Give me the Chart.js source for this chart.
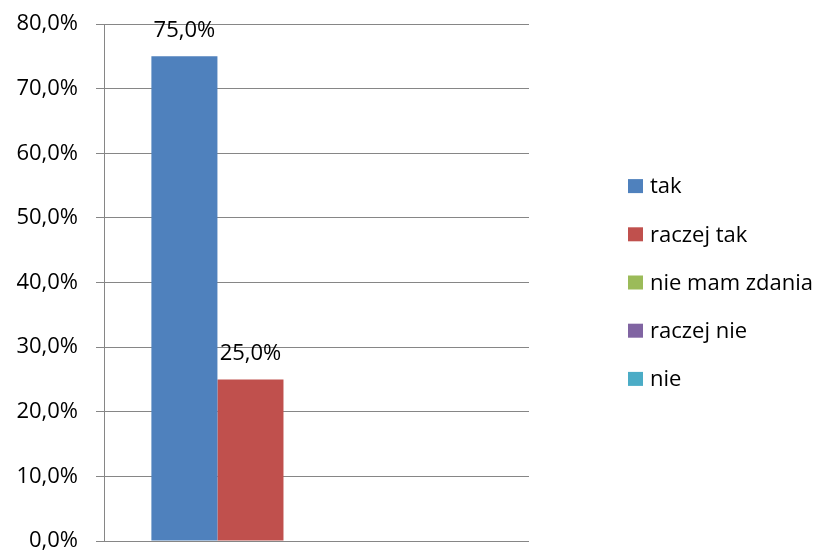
<!DOCTYPE html>
<html>
<head>
<meta charset="utf-8">
<script src="https://cdn.jsdelivr.net/npm/chart.js@4.4.1/dist/chart.umd.min.js"></script>
<style>
  html, body { margin: 0; padding: 0; background: #fff; }
  #wrap { width: 823px; height: 551px; }
</style>
</head>
<body>
<div id="wrap"><canvas id="chart"></canvas></div>
<script>
const categories = [""];
const seriesNames = ["tak", "raczej tak", "nie mam zdania", "raczej nie", "nie"];
const seriesValues = [[75], [25], [0], [0], [0]];
const seriesColors = ["#4F81BD", "#C0504D", "#9BBB59", "#8064A2", "#4BACC6"];
const yTicks = [0, 10, 20, 30, 40, 50, 60, 70, 80];

const FONT = "'Open Sans', 'Noto Sans', sans-serif";
const fmt = v => v.toFixed(1).replace(".", ",") + "%";

// value labels over the bars
const barLabels = {
  id: "barLabels",
  afterDatasetsDraw(chart) {
    const ctx = chart.ctx;
    ctx.save();
    ctx.font = "22px " + FONT;
    ctx.fillStyle = "#000";
    ctx.textAlign = "center";
    ctx.textBaseline = "alphabetic";
    chart.data.datasets.forEach((ds, i) => {
      chart.getDatasetMeta(i).data.forEach((bar, j) => {
        const v = ds.data[j];
        if (v > 0) ctx.fillText(fmt(v), bar.x, bar.y - 19);
      });
    });
    ctx.restore();
  }
};

// legend on the right, like the office chart
const sideLegend = {
  id: "sideLegend",
  afterDraw(chart) {
    const ctx = chart.ctx;
    const area = chart.chartArea;
    const x0 = area.right + 99;
    const mid = (area.top + area.bottom) / 2;
    const n = chart.data.datasets.length;
    ctx.save();
    ctx.font = "22px " + FONT;
    ctx.textAlign = "left";
    ctx.textBaseline = "middle";
    chart.data.datasets.forEach((ds, i) => {
      const y = mid + (i - (n - 1) / 2) * 48.2;
      ctx.fillStyle = ds.backgroundColor;
      ctx.fillRect(x0, y - 7, 15, 14);
      ctx.fillStyle = "#000";
      ctx.fillText(ds.label, x0 + 22, y + 1);
    });
    ctx.restore();
  }
};

new Chart(document.getElementById("chart"), {
  type: "bar",
  data: {
    labels: categories,
    datasets: seriesNames.map((name, i) => ({
      label: name,
      data: seriesValues[i],
      backgroundColor: seriesColors[i],
      borderWidth: 0
    }))
  },
  options: {
    responsive: true,
    maintainAspectRatio: false,
    animation: false,
    events: [],
    categoryPercentage: 0.777,
    barPercentage: 1,
    layout: { padding: { top: 24, right: 294, bottom: 10, left: 0 } },
    plugins: { legend: { display: false }, tooltip: { enabled: false } },
    scales: {
      x: { display: false },
      y: {
        min: 0,
        max: 80,
        afterBuildTicks: scale => { scale.ticks = yTicks.map(v => ({ value: v })); },
        afterFit: scale => {
          scale.width = 104;
          scale.paddingTop = 0;
          scale.paddingBottom = 0;
        },
        ticks: {
          padding: 18,
          color: "#000",
          font: { family: FONT, size: 22 },
          callback: v => fmt(v)
        },
        grid: { color: "#868686", lineWidth: 1, tickLength: 8, tickColor: "#868686" },
        border: { display: true, color: "#868686", width: 1 }
      }
    }
  },
  plugins: [barLabels, sideLegend]
});
</script>
</body>
</html>
